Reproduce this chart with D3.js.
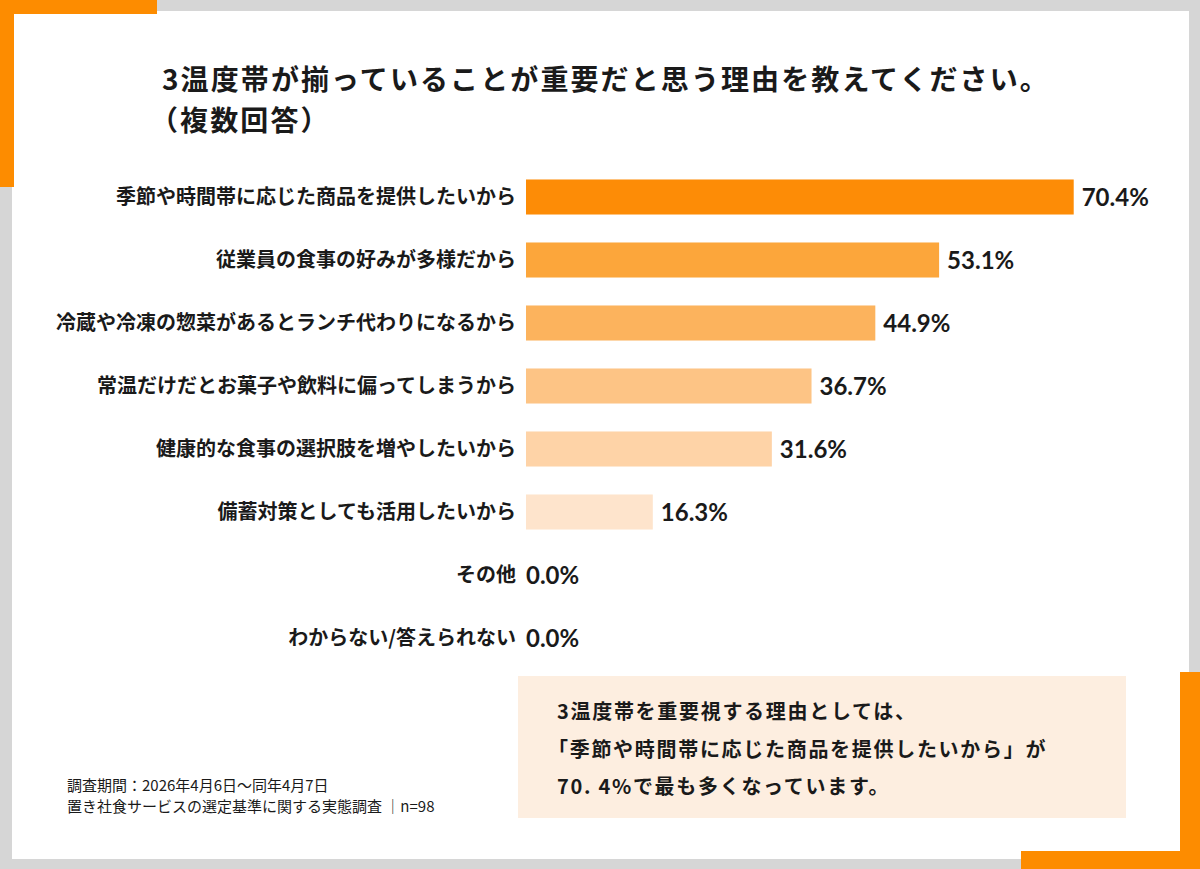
<!DOCTYPE html>
<html>
<head>
<meta charset="utf-8">
<script src="https://cdn.jsdelivr.net/npm/d3@7"></script>
<style>
  html, body { margin: 0; padding: 0; background: #d6d6d6; }
  svg { display: block; }
</style>
</head>
<body>
<div id="container"></div>
<script>
// the data
const categories = [
  "季節や時間帯に応じた商品を提供したいから",
  "従業員の食事の好みが多様だから",
  "冷蔵や冷凍の惣菜があるとランチ代わりになるから",
  "常温だけだとお菓子や飲料に偏ってしまうから",
  "健康的な食事の選択肢を増やしたいから",
  "備蓄対策としても活用したいから",
  "その他",
  "わからない/答えられない"
];
const values = [70.4, 53.1, 44.9, 36.7, 31.6, 16.3, 0.0, 0.0];

const titleLines = [
  "3温度帯が揃っていることが重要だと思う理由を教えてください。",
  "（複数回答）"
];
const noteLines = [
  "3温度帯を重要視する理由としては、",
  "「季節や時間帯に応じた商品を提供したいから」が",
  "70. 4%で最も多くなっています。"
];
const footLines = [
  "調査期間：2026年4月6日～同年4月7日",
  "置き社食サービスの選定基準に関する実態調査 │n=98"
];

// bars fade from strong orange to pale, one colour per row
const barColors = ["#fd8c06", "#fca63b", "#fcb35d", "#fdc485", "#fed3a7", "#fee4cc", "#fff0e0", "#fff0e0"];

const W = 1200, H = 869;
const jp = "'Noto Sans CJK JP', 'Noto Sans', sans-serif";
const ink = "#1a1a1a";

const svg = d3.select("#container").append("svg")
  .attr("width", W).attr("height", H);

// grey page, white card, orange corner brackets
svg.append("rect").attr("width", W).attr("height", H).attr("fill", "#d6d6d6");
svg.append("rect").attr("x", 12).attr("y", 11).attr("width", 1177).attr("height", 848).attr("fill", "#ffffff");
const orange = "#fd8c00";
svg.append("rect").attr("x", 0).attr("y", 0).attr("width", 157).attr("height", 14).attr("fill", orange);
svg.append("rect").attr("x", 0).attr("y", 0).attr("width", 14).attr("height", 187).attr("fill", orange);
svg.append("rect").attr("x", 1180).attr("y", 672).attr("width", 20).attr("height", 197).attr("fill", orange);
svg.append("rect").attr("x", 1021).attr("y", 851).attr("width", 179).attr("height", 18).attr("fill", orange);

// title, slightly smaller font but spaced out so it keeps the same width
svg.append("g").selectAll("text").data(titleLines).join("text")
  // the full width bracket sits right in its box, pull it left a bit
  .attr("x", (d, i) => i === 0 ? 162 : 150)
  .attr("y", (d, i) => 90 + i * 41)
  .attr("font-family", jp)
  .attr("font-weight", 700)
  .attr("font-size", 28)
  .attr("letter-spacing", 2.1)
  .attr("fill", ink)
  .text(d => d);

// scales
const x = d3.scaleLinear().domain([0, 100]).range([526, 526 + 778]);
const y = d3.scaleBand().domain(categories).range([165.5, 669.5])
  .paddingInner(0.444).paddingOuter(0.222);

const rows = svg.append("g").selectAll("g").data(categories).join("g");

rows.append("rect")
  .attr("x", x(0))
  .attr("y", d => y(d))
  .attr("width", (d, i) => x(values[i]) - x(0))
  .attr("height", y.bandwidth())
  .attr("fill", (d, i) => barColors[i]);

// category labels on the left
rows.append("text")
  .attr("x", 516)
  .attr("y", d => y(d) + y.bandwidth() / 2)
  .attr("dy", "0.36em")
  .attr("text-anchor", "end")
  .attr("font-family", jp)
  .attr("font-weight", 700)
  .attr("font-size", 20)
  .attr("fill", ink)
  .text(d => d);

// value labels just after the bar end
rows.append("text")
  .attr("x", (d, i) => x(values[i]) + (values[i] > 0 ? 8 : 0))
  .attr("y", d => y(d) + y.bandwidth() / 2)
  .attr("dy", "0.36em")
  .attr("font-family", "Lato, 'Noto Sans', sans-serif")
  .attr("font-weight", 700)
  .attr("font-size", 24)
  .attr("fill", ink)
  .text((d, i) => values[i].toFixed(1) + "%");

// the note box lower right
svg.append("rect").attr("x", 518).attr("y", 676).attr("width", 608).attr("height", 142).attr("fill", "#fdeee0");
svg.append("g").selectAll("text").data(noteLines).join("text")
  .attr("x", (d, i) => i === 1 ? 548 : 557)
  .attr("y", (d, i) => 719 + i * 37.5)
  .attr("font-family", jp)
  .attr("font-weight", 700)
  .attr("font-size", 20)
  .attr("letter-spacing", 1.7)
  .attr("fill", ink)
  .text(d => d);

// survey footnote
svg.append("g").selectAll("text").data(footLines).join("text")
  .attr("x", 67)
  .attr("y", (d, i) => 791 + i * 21)
  .attr("font-family", jp)
  .attr("font-size", 15)
  .attr("fill", ink)
  .text(d => d);
</script>
</body>
</html>
